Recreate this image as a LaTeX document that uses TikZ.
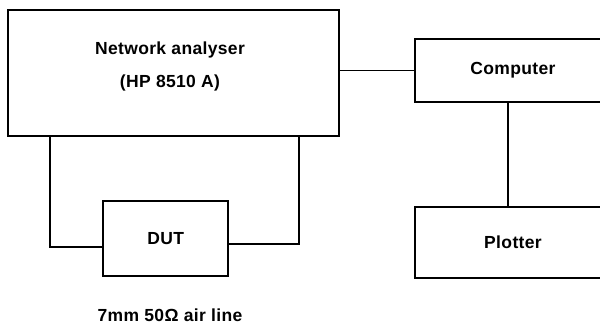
\documentclass[tikz,border=0pt]{standalone}
\usepackage{fontspec}
\setmainfont{Liberation Sans}[LetterSpace=2]
\usetikzlibrary{positioning, calc}
\tikzset{
    unitBox/.style={rectangle, draw=black, line width=1.8pt, inner sep=0pt},
    boxText/.style={font=\fontsize{17.5}{33}\selectfont\bfseries, align=center, inner sep=0pt},
    wireLine/.style={line width=1.8pt}
}

\begin{document}
\begin{tikzpicture}[x=1pt, y=-1pt]

        % Frame (fixes the page size)
        \useasboundingbox (0,0) rectangle (600,327);
        \clip (0,0) rectangle (600,327);

        % 1. Boxes
        \node[unitBox, minimum width=331pt, minimum height=126pt] (NA) at (173.3,73) {};
        \node[unitBox, minimum width=196pt, minimum height=63pt]  (Comp) at (513,70.5) {};
        \node[unitBox, minimum width=196pt, minimum height=71pt]  (Plot) at (513,242.5) {};
        \node[unitBox, minimum width=125pt, minimum height=75pt]  (DUT) at (165.8,238.5) {};

        % 2. Texts
        \node[boxText] (NAtext) at (170,66) {Network analyser\\(HP 8510 A)};
        \node[boxText] (CompText) at (Comp) {Computer};
        \node[boxText] (PlotText) at (Plot) {Plotter};
        \node[boxText] (DUTtext) at (DUT) {DUT};
        \node[boxText] (lineText) at (170,315) {7mm 50Ω air line};

        % 3. Wires
        \draw[wireLine] (Comp.west) -- (Comp.west -| NA.east);
        \draw[wireLine] ([xshift=-5pt]Comp.south) -- ([xshift=-5pt]Plot.north);
        \draw[wireLine] ([yshift=-8.5pt]DUT.west) -| ([xshift=43.3pt]NA.south west);
        \draw[wireLine] ([yshift=-5.5pt]DUT.east) -| ([xshift=-40.5pt]NA.south east);

\end{tikzpicture}
\end{document}
